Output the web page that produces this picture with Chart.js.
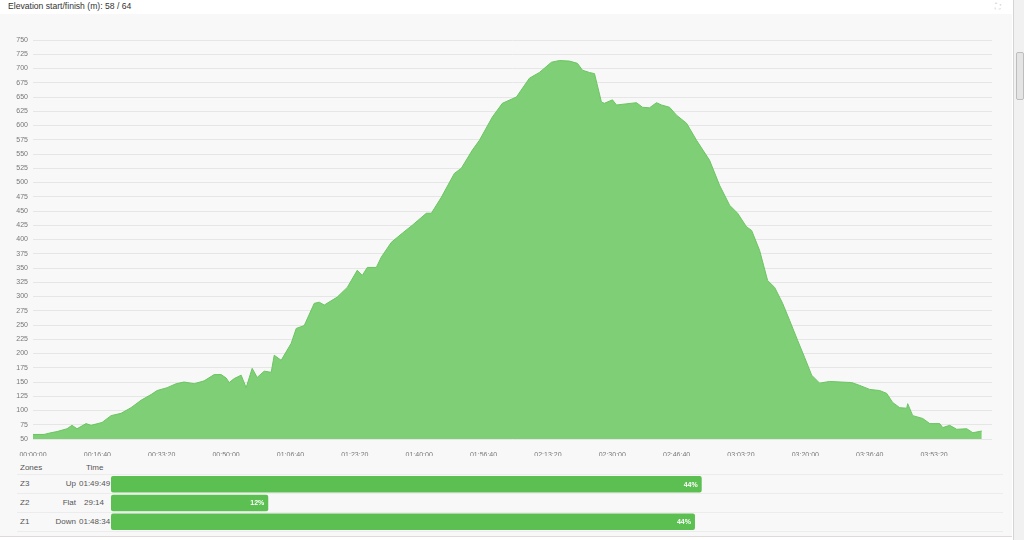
<!DOCTYPE html>
<html>
<head>
<meta charset="utf-8">
<script src="https://cdn.jsdelivr.net/npm/chart.js@4.4.1/dist/chart.umd.min.js"></script>
<style>
  body { margin: 0; width: 1024px; height: 540px; overflow: hidden; background: #fff; font-family: "Liberation Sans", Arial, sans-serif; position: relative; }
  #title { position: absolute; left: 8px; top: 1px; font-size: 8.6px; color: #333; }
  #panel { position: absolute; left: 0; top: 14px; width: 1012px; height: 522px; background: #f8f8f8; border-bottom: 1px solid #e2d8d8; }
  #elevWrap { position: absolute; left: 0; top: 15px; width: 1000px; height: 441px; }
  #zoneWrap { position: absolute; left: 111px; top: 475px; width: 892px; height: 56px; }
  .zt { position: absolute; font-size: 8px; color: #555; white-space: nowrap; }
  .row { position: absolute; left: 17px; width: 986px; height: 0; border-top: 1px solid #ececec; }
  #scroll { position: absolute; left: 1013px; top: 0; width: 11px; height: 540px; background: #f1f1f1; border-left: 1px solid #d4d4d4; }
  #thumb { position: absolute; left: 2px; top: 52px; width: 6px; height: 46px; background: #e4e4e4; border: 1px solid #bdbdbd; border-radius: 2px; }
  #fs { position: absolute; left: 995px; top: 2px; font-size: 8px; color: #c8c8c8; }
</style>
</head>
<body>
<div id="title">Elevation start/finish (m): 58 / 64</div>
<div id="fs">&#x26F6;</div>
<div id="panel"></div>
<div id="elevWrap"><canvas id="elevation"></canvas></div>

<div class="zt" style="left:20px;top:463px;">Zones</div>
<div class="zt" style="left:86px;top:463px;">Time</div>
<div class="row" style="top:474px;"></div>
<div class="row" style="top:493px;"></div>
<div class="row" style="top:512px;"></div>
<div class="row" style="top:531px;"></div>
<div id="zoneLabels"></div>
<div id="zoneWrap"><canvas id="zones"></canvas></div>

<div id="scroll"><div id="thumb"></div></div>

<script>
// elevation profile: time in seconds, elevation in metres
const times = [0, 171, 280, 373, 529, 606, 684, 824, 902, 1073, 1213, 1368, 1524, 1679, 1835, 1928,
  2084, 2224, 2348, 2504, 2659, 2815, 2923, 3001, 3048, 3126, 3234, 3312, 3405, 3483, 3592, 3701,
  3748, 3856, 4012, 4090, 4214, 4370, 4447, 4525, 4727, 4883, 5038, 5116, 5194, 5334, 5411, 5567,
  5738, 5893, 6111, 6189, 6344, 6547, 6655, 6827, 6936, 7138, 7293, 7511, 7713, 7868, 8055, 8179,
  8335, 8459, 8537, 8646, 8724, 8832, 8879, 9003, 9066, 9377, 9470, 9579, 9688, 9765, 9890, 9999,
  10154, 10310, 10512, 10668, 10824, 10948, 11087, 11165, 11289, 11414, 11523, 11647, 11756, 11880,
  11989, 12098, 12222, 12378, 12720, 12845, 13000, 13155, 13264, 13357, 13466, 13575, 13590, 13668,
  13824, 13933, 14088, 14135, 14243, 14352, 14508, 14601, 14741];
const elevations = [58, 58, 61, 63, 68, 74, 68, 77, 74, 79, 91, 95, 105, 118, 128, 135,
  140, 147, 150, 147, 152, 163, 163, 157, 149, 156, 162, 140, 174, 158, 169, 167,
  197, 188, 218, 244, 249, 288, 290, 285, 299, 316, 346, 337, 351, 351, 369, 395,
  411, 425, 446, 446, 474, 516, 525, 557, 574, 615, 639, 650, 683, 693, 711, 714,
  713, 709, 697, 693, 691, 641, 639, 645, 636, 640, 632, 631, 640, 636, 632, 618,
  604, 574, 539, 495, 460, 446, 422, 416, 381, 328, 316, 288, 258, 223,
  193, 162, 148, 151, 149, 144, 137, 135, 130, 114, 105, 104, 112, 91,
  86, 77, 77, 70, 74, 67, 68, 61, 64];

// x tick positions (seconds), labelled as hh:mm:ss
const timeTicks = [0, 1000, 2000, 3000, 4000, 5000, 6000, 7000, 8000, 9000, 10000, 11000, 12000, 13000, 14000];

// zones table
const zoneNames = ['Z3', 'Z2', 'Z1'];
const zoneTypes = ['Up', 'Flat', 'Down'];
const zoneTimes = ['01:49:49', '29:14', '01:48:34'];
const zoneSeconds = [6589, 1754, 6514];
const zonePercents = [44, 12, 44];

function hms(s) {
  const h = Math.floor(s / 3600), m = Math.floor((s % 3600) / 60), sec = Math.round(s % 60);
  const p = n => String(n).padStart(2, '0');
  return p(h) + ':' + p(m) + ':' + p(sec);
}

const tickFont = { family: '"Liberation Sans", Arial, sans-serif', size: 7 };

new Chart(document.getElementById('elevation'), {
  type: 'line',
  data: {
    datasets: [{
      data: times.map((t, i) => ({ x: t, y: elevations[i] })),
      borderColor: '#6cc462',
      borderWidth: 1,
      backgroundColor: '#7ecf76',
      fill: 'origin',
      pointRadius: 0,
      tension: 0
    }]
  },
  options: {
    responsive: true,
    maintainAspectRatio: false,
    animation: false,
    layout: { padding: { top: 25, right: 8, left: 0, bottom: 0 } },
    plugins: { legend: { display: false }, tooltip: { enabled: false } },
    scales: {
      x: {
        type: 'linear',
        min: 0,
        max: 14900,
        grid: { display: false },
        border: { display: false },
        afterBuildTicks: s => { s.ticks = timeTicks.map(v => ({ value: v })); },
        ticks: {
          maxRotation: 0,
          autoSkip: false,
          color: '#777',
          font: tickFont,
          padding: 4,
          callback: v => hms(v)
        },
        afterFit: s => { s.height = 17; }
      },
      y: {
        min: 50,
        max: 750,
        grid: { color: '#e6e6e6', drawTicks: false },
        border: { display: false },
        ticks: { stepSize: 25, maxTicksLimit: 40, color: '#777', font: tickFont, padding: 5 },
        afterFit: s => { s.width = 33; }
      }
    }
  }
});

// zone labels on the left
const zl = document.getElementById('zoneLabels');
zoneNames.forEach((z, i) => {
  const top = 479 + i * 19;
  zl.insertAdjacentHTML('beforeend',
    '<div class="zt" style="left:20px;top:' + top + 'px;">' + z + '</div>' +
    '<div class="zt" style="right:' + (1024 - 76) + 'px;top:' + top + 'px;">' + zoneTypes[i] + '</div>' +
    '<div class="zt" style="left:79px;width:30px;text-align:center;top:' + top + 'px;">' + zoneTimes[i] + '</div>');
});

const pctLabels = {
  id: 'pctLabels',
  afterDatasetsDraw(chart) {
    const ctx = chart.ctx;
    const meta = chart.getDatasetMeta(0);
    ctx.save();
    ctx.fillStyle = '#fff';
    ctx.font = 'bold 7px "Liberation Sans", Arial, sans-serif';
    ctx.textAlign = 'right';
    ctx.textBaseline = 'middle';
    meta.data.forEach((bar, i) => {
      ctx.fillText(zonePercents[i] + '%', bar.x - 4, bar.y + 0.5);
    });
    ctx.restore();
  }
};

new Chart(document.getElementById('zones'), {
  type: 'bar',
  data: {
    labels: zoneNames,
    datasets: [{
      data: zoneSeconds,
      backgroundColor: '#5cbf51',
      borderRadius: 2,
      borderSkipped: false,
      categoryPercentage: 1,
      barPercentage: 0.88
    }]
  },
  options: {
    indexAxis: 'y',
    responsive: true,
    maintainAspectRatio: false,
    animation: false,
    layout: { padding: 0 },
    plugins: { legend: { display: false }, tooltip: { enabled: false } },
    scales: {
      x: { display: false, min: 0, max: 9950 },
      y: { display: false }
    }
  },
  plugins: [pctLabels]
});
</script>
</body>
</html>
